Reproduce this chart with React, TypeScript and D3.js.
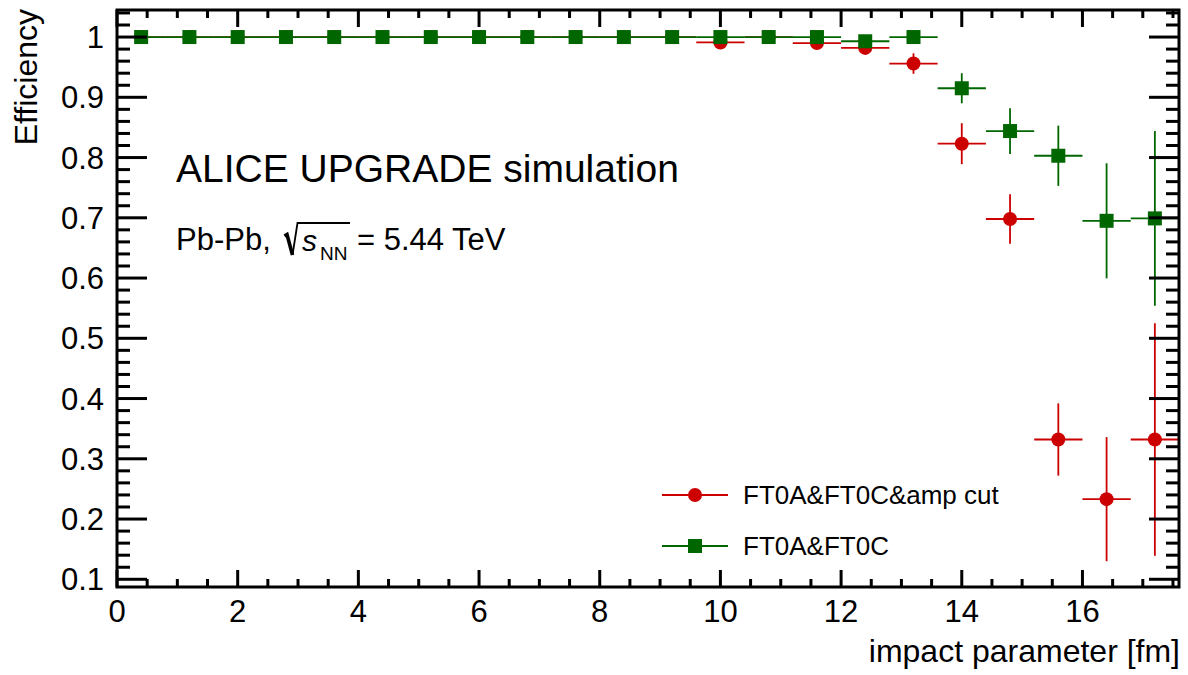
import React from 'react';
import * as d3 from 'd3';

const binCenters = [0.4, 1.2, 2.0, 2.8, 3.6, 4.4, 5.2, 6.0, 6.8, 7.6, 8.4, 9.2, 10.0, 10.8, 11.6, 12.4, 13.2, 14.0, 14.8, 15.6, 16.4, 17.2];
const binHalfWidth = 0.4;

const ampCutEff = [1, 1, 1, 1, 1, 1, 1, 1, 1, 1, 1, 1, 0.991, 1, 0.990, 0.982, 0.956, 0.823, 0.698, 0.332, 0.233, 0.332];
const ampCutErr = [0, 0, 0, 0, 0, 0, 0, 0, 0, 0, 0, 0, 0.003, 0, 0.003, 0.005, 0.017, 0.034, 0.041, 0.06, 0.103, 0.193];

const ft0Eff = [1, 1, 1, 1, 1, 1, 1, 1, 1, 1, 1, 1, 1, 1, 1, 0.993, 1, 0.915, 0.844, 0.803, 0.695, 0.699];
const ft0Err = [0, 0, 0, 0, 0, 0, 0, 0, 0, 0, 0, 0, 0, 0, 0, 0.003, 0, 0.025, 0.038, 0.05, 0.0955, 0.145];

const xMajorTicks = [0, 2, 4, 6, 8, 10, 12, 14, 16];
const yMajorTicks = [0.1, 0.2, 0.3, 0.4, 0.5, 0.6, 0.7, 0.8, 0.9, 1];

const RED = '#cc0000';
const GREEN = '#006600';
const FONT = 'Liberation Sans, Arial, Helvetica, sans-serif';

const W = 1188;
const H = 675;
const frame = { left: 117, right: 1179, top: 10, bottom: 587 };

const x = d3.scaleLinear().domain([0, 17.6]).range([frame.left, frame.right]);
const y = d3.scaleLinear().domain([0.0872, 1.0449]).range([frame.bottom, frame.top]);

const xMinor = d3.range(0, 17.6, 0.5).filter((v) => Math.abs(v % 2) > 1e-6);
const yMinor = d3.range(0.1, 1.045, 0.02).filter((v) => !yMajorTicks.some((t) => Math.abs(t - v) < 1e-6));

type Series = { eff: number[]; err: number[]; color: string; marker: 'circle' | 'square' };

const series: Series[] = [
  { eff: ampCutEff, err: ampCutErr, color: RED, marker: 'circle' },
  { eff: ft0Eff, err: ft0Err, color: GREEN, marker: 'square' },
];

const Marker = ({ cx, cy, kind, color }: { cx: number; cy: number; kind: string; color: string }) =>
  kind === 'circle' ? (
    <circle cx={cx} cy={cy} r={7} fill={color} />
  ) : (
    <rect x={cx - 7} y={cy - 7} width={14} height={14} fill={color} />
  );

export default function App() {
  return (
    <div style={{ position: 'fixed', left: 0, top: 0, width: W, height: H, background: '#fff' }}>
      <svg width={W} height={H} style={{ display: 'block' }} fontFamily={FONT}>
        <rect width={W} height={H} fill="#fff" />

        {/* data */}
        {series.map((s, si) => (
          <g key={si}>
            {binCenters.map((c, i) => {
              const px = x(c);
              const py = y(s.eff[i]);
              return (
                <g key={i} stroke={s.color} strokeWidth={1.8}>
                  <line x1={x(c - binHalfWidth)} x2={x(Math.min(c + binHalfWidth, 17.6))} y1={py} y2={py} />
                  {s.err[i] > 0 && (
                    <line x1={px} x2={px} y1={y(s.eff[i] + s.err[i])} y2={y(s.eff[i] - s.err[i])} />
                  )}
                </g>
              );
            })}
            {binCenters.map((c, i) => (
              <Marker key={i} cx={x(c)} cy={y(s.eff[i])} kind={s.marker} color={s.color} />
            ))}
          </g>
        ))}

        {/* frame ticks */}
        <g stroke="#000" strokeWidth={3}>
          {xMajorTicks.map((t) => (
            <g key={t}>
              <line x1={x(t)} x2={x(t)} y1={frame.bottom} y2={frame.bottom - 17} />
              <line x1={x(t)} x2={x(t)} y1={frame.top} y2={frame.top + 17} />
            </g>
          ))}
          {xMinor.map((t) => (
            <g key={t}>
              <line x1={x(t)} x2={x(t)} y1={frame.bottom} y2={frame.bottom - 8} />
              <line x1={x(t)} x2={x(t)} y1={frame.top} y2={frame.top + 8} />
            </g>
          ))}
          {yMajorTicks.map((t) => (
            <g key={t}>
              <line x1={frame.left} x2={frame.left + 30} y1={y(t)} y2={y(t)} />
              <line x1={frame.right} x2={frame.right - 30} y1={y(t)} y2={y(t)} />
            </g>
          ))}
          {yMinor.map((t) => (
            <g key={t}>
              <line x1={frame.left} x2={frame.left + 13} y1={y(t)} y2={y(t)} />
              <line x1={frame.right} x2={frame.right - 13} y1={y(t)} y2={y(t)} />
            </g>
          ))}
        </g>
        <rect
          x={frame.left}
          y={frame.top}
          width={frame.right - frame.left}
          height={frame.bottom - frame.top}
          fill="none"
          stroke="#000"
          strokeWidth={3}
        />

        {/* tick labels */}
        {xMajorTicks.map((t) => (
          <text key={t} x={x(t)} y={622} textAnchor="middle" fontSize={31}>
            {t}
          </text>
        ))}
        {yMajorTicks.map((t) => (
          <text key={t} x={104} y={y(t)} dy="0.36em" textAnchor="end" fontSize={31}>
            {d3.format('~g')(t)}
          </text>
        ))}

        {/* axis titles */}
        <text x={1180} y={662} textAnchor="end" fontSize={32}>
          impact parameter [fm]
        </text>
        <text transform="translate(37,9) rotate(-90)" textAnchor="end" fontSize={32}>
          Efficiency
        </text>

        {/* annotations */}
        <text x={176} y={182} fontSize={39}>
          ALICE UPGRADE simulation
        </text>
        <text x={176} y={250} fontSize={31}>
          Pb-Pb,
        </text>
        <path d="M284.5,236 L287,234.5 L292.5,255" fill="none" stroke="#000" strokeWidth={3.6} strokeLinejoin="miter" />
        <path d="M292.5,255 L297.5,223 L350,223" fill="none" stroke="#000" strokeWidth={1.8} />
        <text x={302} y={251} fontSize={30} fontStyle="italic">
          s
        </text>
        <text x={320} y={260} fontSize={19}>
          NN
        </text>
        <text x={357} y={250} fontSize={31}>
          = 5.44 TeV
        </text>

        {/* legend */}
        {[
          { s: series[0], label: 'FT0A&FT0C&amp cut', cy: 495 },
          { s: series[1], label: 'FT0A&FT0C', cy: 546 },
        ].map((e, i) => (
          <g key={i}>
            <line x1={662} x2={728} y1={e.cy} y2={e.cy} stroke={e.s.color} strokeWidth={1.8} />
            <Marker cx={695} cy={e.cy} kind={e.s.marker} color={e.s.color} />
            <text x={743} y={e.cy} dy="0.36em" fontSize={26}>
              {e.label}
            </text>
          </g>
        ))}
      </svg>
    </div>
  );
}
